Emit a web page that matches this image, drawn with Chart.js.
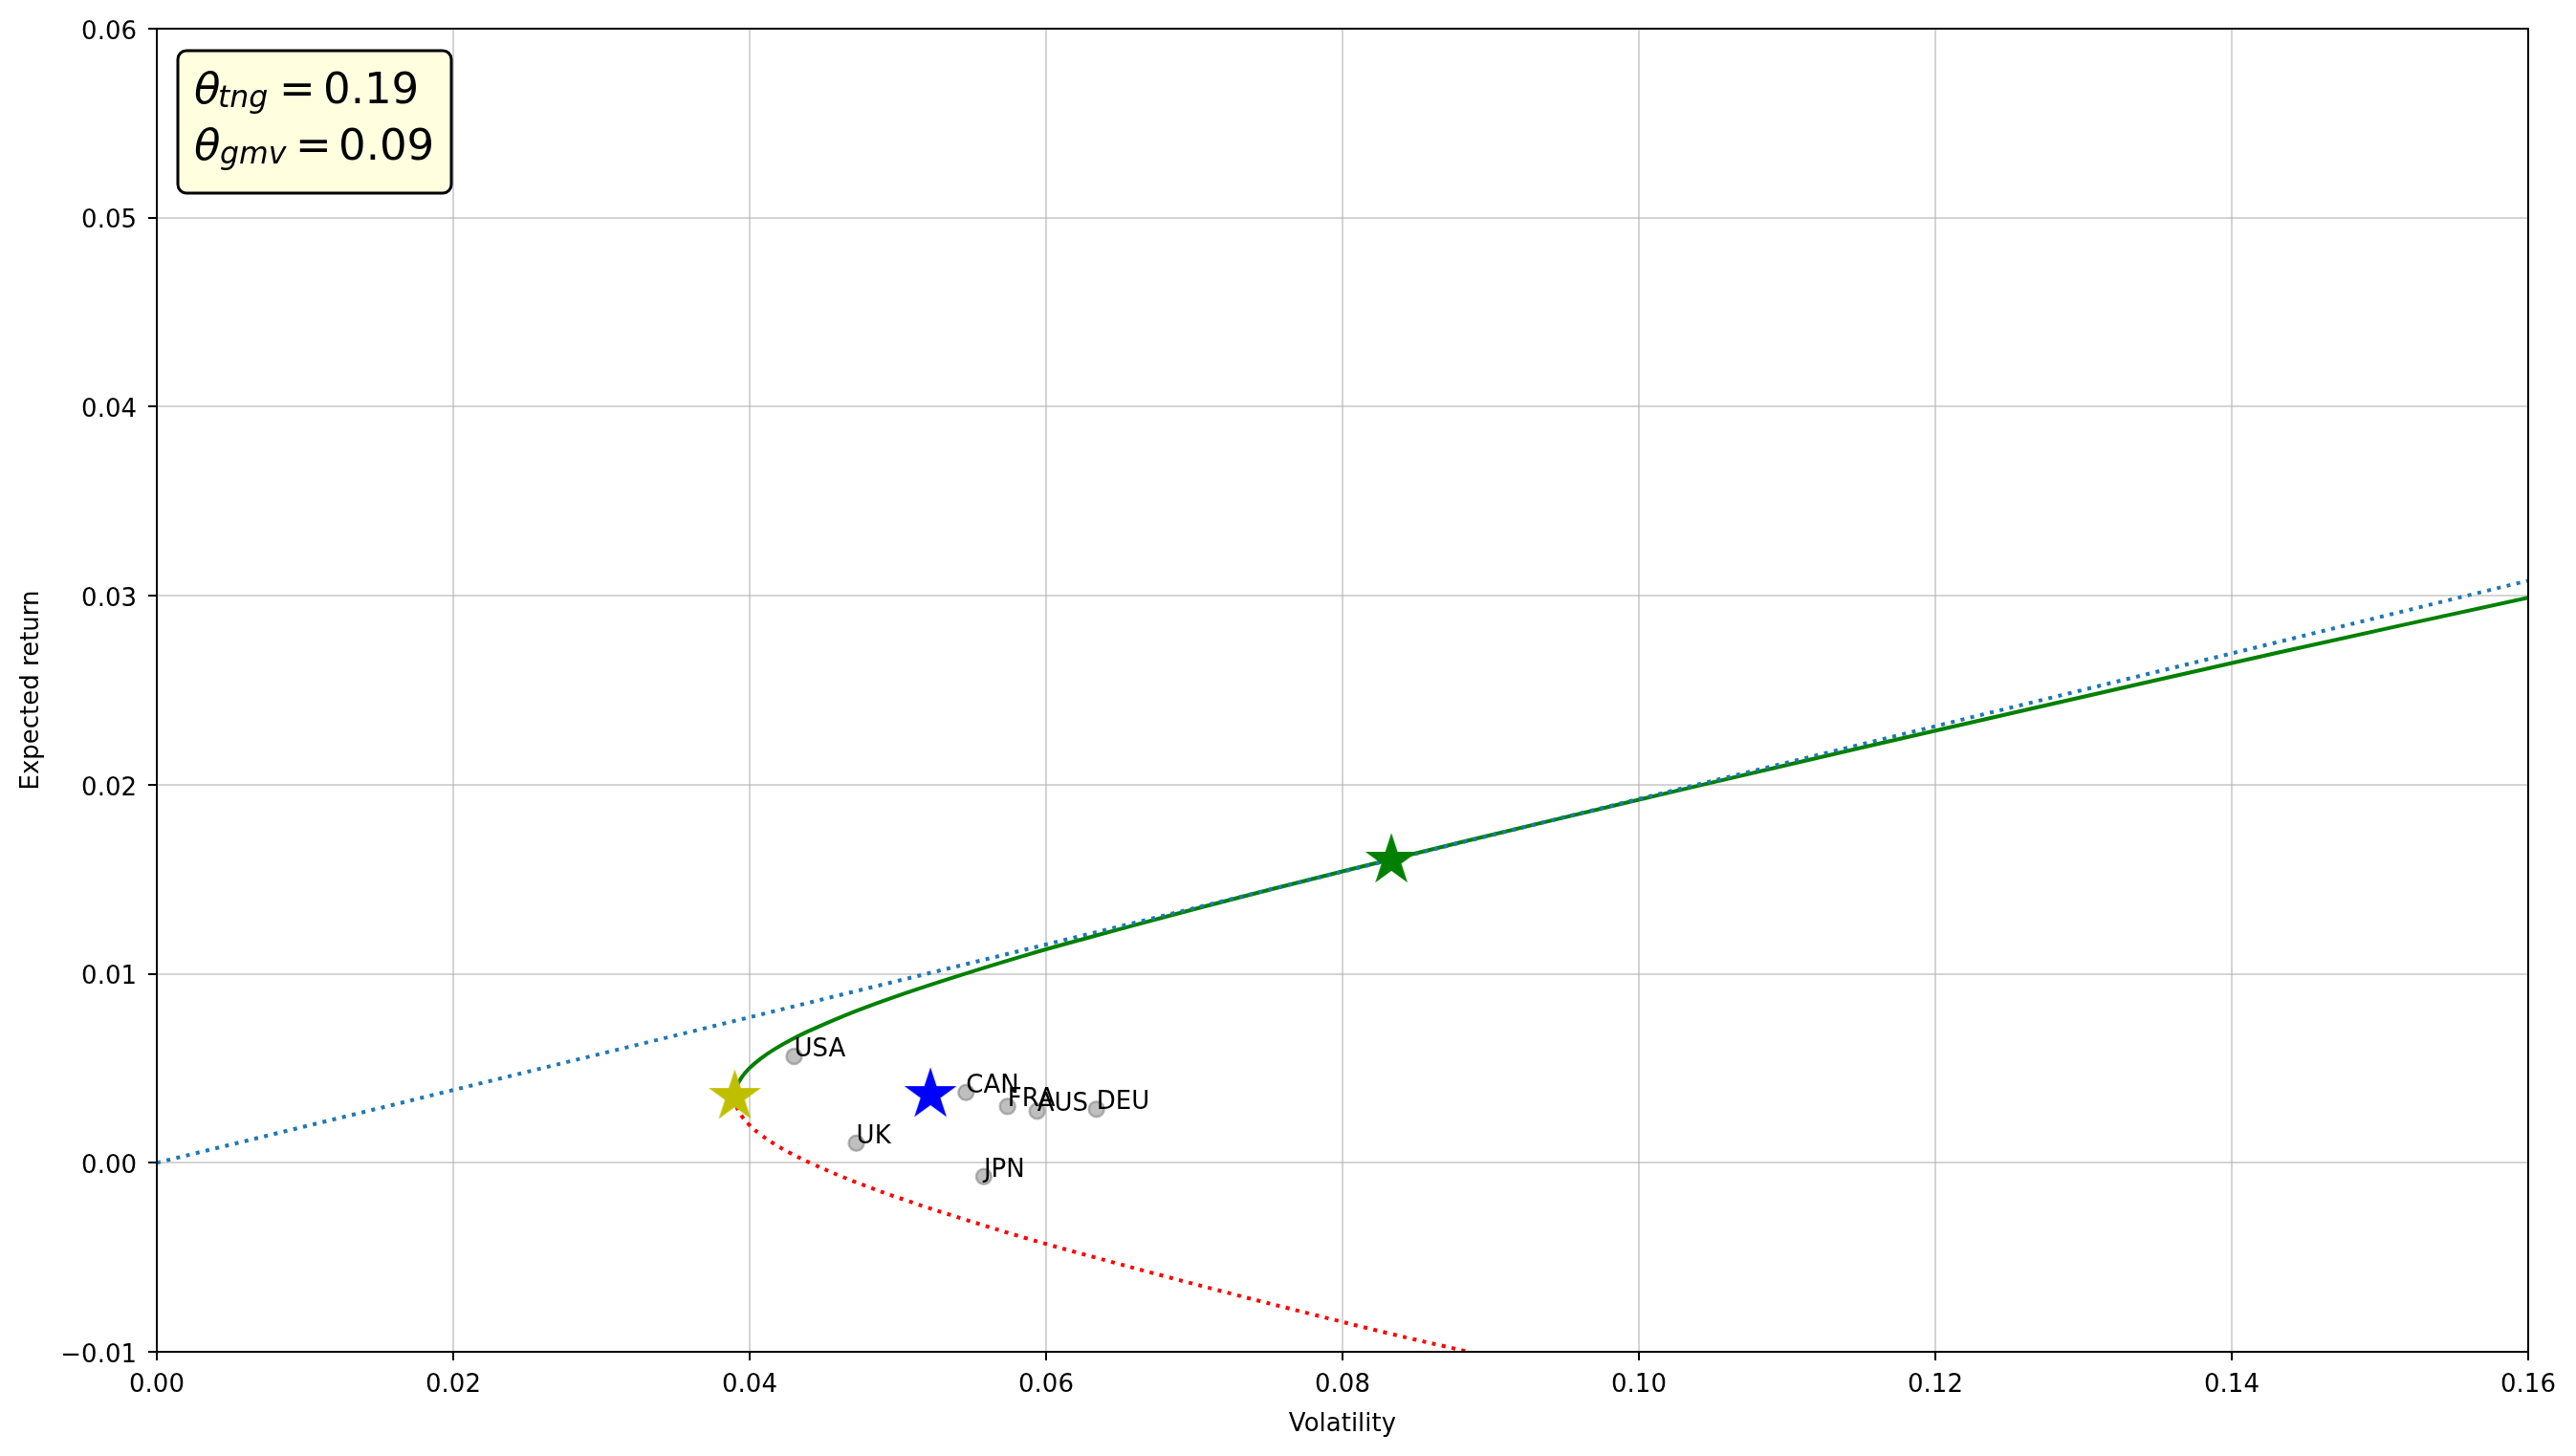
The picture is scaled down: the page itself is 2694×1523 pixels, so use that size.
<!DOCTYPE html>
<html>
<head>
<meta charset="utf-8">
<script src="https://cdn.jsdelivr.net/npm/chart.js@4.4.0/dist/chart.umd.min.js"></script>
<style>
  html, body { margin: 0; padding: 0; background: #fff; }
  #wrap { width: 2694px; height: 1523px; position: relative; }
</style>
</head>
<body>
<div id="wrap"><canvas id="chart"></canvas></div>
<script>
// ---- data ----
const countries = ["USA", "CAN", "FRA", "AUS", "DEU", "UK", "JPN"];
const countryVol = [0.0430, 0.0546, 0.0574, 0.0594, 0.0634, 0.0472, 0.0558];
const countryRet = [0.00563, 0.00372, 0.00298, 0.00273, 0.00284, 0.00104, -0.00073];

// efficient (upper) branch of the frontier
const effVol = [0.0390, 0.03911, 0.03944, 0.03998, 0.04072, 0.04166, 0.04278, 0.04407, 0.04708, 0.05060,
  0.05452, 0.0587, 0.06327, 0.06799, 0.07286, 0.07788, 0.0830, 0.09352, 0.10429, 0.11524, 0.12634, 0.14316, 0.1600];
const effRet = [0.0035, 0.0040, 0.0045, 0.0050, 0.0055, 0.0060, 0.0065, 0.0070, 0.0080, 0.0090,
  0.0100, 0.0110, 0.0120, 0.0130, 0.0140, 0.0150, 0.0160, 0.0180, 0.0200, 0.0220, 0.0240, 0.0270, 0.0299];

// inefficient (lower) branch
const ineffVol = [0.0390, 0.03911, 0.03944, 0.03998, 0.04072, 0.04166, 0.04278, 0.04407, 0.04708, 0.05060,
  0.05452, 0.0587, 0.06327, 0.06799, 0.07286, 0.07788, 0.0830, 0.0885];
const ineffRet = [0.0035, 0.0030, 0.0025, 0.0020, 0.0015, 0.0010, 0.0005, 0.0000, -0.0010, -0.0020,
  -0.0030, -0.0040, -0.0050, -0.0060, -0.0070, -0.0080, -0.0090, -0.0100];

// capital market line
const cmlVol = [0.0, 0.16];
const cmlRet = [0.0, 0.0308];

// special portfolios
const tngPoint = [0.0833, 0.0160];
const gmvPoint = [0.0390, 0.0035];
const ewPoint = [0.0522, 0.0036];

const thetaTng = "0.19";
const thetaGmv = "0.09";

const xTicks = [0, 0.02, 0.04, 0.06, 0.08, 0.10, 0.12, 0.14, 0.16];
const xTickLabels = ["0.00", "0.02", "0.04", "0.06", "0.08", "0.10", "0.12", "0.14", "0.16"];
const yTicks = [-0.01, 0, 0.01, 0.02, 0.03, 0.04, 0.05, 0.06];
const yTickLabels = ["\u22120.01", "0.00", "0.01", "0.02", "0.03", "0.04", "0.05", "0.06"];

const FONT = '"DejaVu Sans", "Liberation Sans", sans-serif';

function pts(xs, ys) {
  return xs.map((v, i) => ({ x: v, y: ys[i] }));
}

// filled five-point star, like the matplotlib '*' marker
function starImage(color) {
  const R = 25.5, r = R * 0.381966, size = 58;
  const c = document.createElement("canvas");
  c.width = size; c.height = size;
  const g = c.getContext("2d");
  g.translate(size / 2, size / 2);
  g.beginPath();
  for (let i = 0; i < 10; i++) {
    const rad = i % 2 === 0 ? R : r;
    const a = -Math.PI / 2 + i * Math.PI / 5;
    const px = rad * Math.cos(a), py = rad * Math.sin(a);
    if (i === 0) g.moveTo(px, py); else g.lineTo(px, py);
  }
  g.closePath();
  g.fillStyle = color;
  g.fill();
  g.lineWidth = 2;
  g.strokeStyle = color;
  g.lineJoin = "miter";
  g.stroke();
  return c;
}

const overlay = {
  id: "overlay",
  afterDatasetsDraw(chart) {
    const { ctx, chartArea: a, scales: { x, y } } = chart;
    ctx.save();
    // country names, anchored at the point like annotate()
    ctx.font = "26px " + FONT;
    ctx.fillStyle = "#000";
    ctx.textAlign = "left";
    ctx.textBaseline = "alphabetic";
    countries.forEach((c, i) => {
      ctx.fillText(c, x.getPixelForValue(countryVol[i]), y.getPixelForValue(countryRet[i]));
    });
    // all four spines
    ctx.strokeStyle = "#000";
    ctx.lineWidth = 2;
    ctx.strokeRect(a.left, a.top, a.right - a.left, a.bottom - a.top);
    ctx.restore();
  },
  afterDraw(chart) {
    const { ctx, chartArea: a } = chart;
    const bx = a.left + 22, by = a.top + 23, bw = 286, bh = 149;
    ctx.save();
    ctx.beginPath();
    ctx.roundRect(bx, by, bw, bh, 9);
    ctx.fillStyle = "#ffffe0";
    ctx.fill();
    ctx.lineWidth = 3;
    ctx.strokeStyle = "#000";
    ctx.stroke();

    ctx.fillStyle = "#000";
    ctx.textBaseline = "alphabetic";
    ctx.textAlign = "left";
    const lines = [
      { sub: "tng", val: thetaTng, base: a.top + 78, subX: bx + 42, eqX: bx + 106, valX: bx + 152 },
      { sub: "gmv", val: thetaGmv, base: a.top + 137, subX: bx + 44, eqX: bx + 123, valX: bx + 168 },
    ];
    lines.forEach(l => {
      ctx.font = "italic 45px " + FONT;
      ctx.fillText("\u03b8", bx + 17, l.base);
      ctx.font = "italic 31.5px " + FONT;
      ctx.fillText(l.sub, l.subX, l.base + 4);
      ctx.font = "45px " + FONT;
      ctx.fillText("=", l.eqX, l.base);
      ctx.fillText(l.val, l.valX, l.base);
    });
    ctx.restore();
  },
};

const gridColor = "rgba(176,176,176,0.55)";

new Chart(document.getElementById("chart"), {
  type: "scatter",
  data: {
    datasets: [
      {
        label: "tangency",
        data: [{ x: tngPoint[0], y: tngPoint[1] }],
        pointStyle: starImage("#008000"),
        order: 0,
      },
      {
        label: "gmv",
        data: [{ x: gmvPoint[0], y: gmvPoint[1] }],
        pointStyle: starImage("#bfbf00"),
        order: 0,
      },
      {
        label: "equal weight",
        data: [{ x: ewPoint[0], y: ewPoint[1] }],
        pointStyle: starImage("#0000ff"),
        order: 0,
      },
      {
        label: "CML",
        data: pts(cmlVol, cmlRet),
        showLine: true,
        borderColor: "#1f77b4",
        borderWidth: 4,
        borderDash: [4, 6.5],
        borderCapStyle: "butt",
        pointRadius: 0,
        order: 1,
      },
      {
        label: "efficient",
        data: pts(effVol, effRet),
        showLine: true,
        borderColor: "#008000",
        borderWidth: 4,
        tension: 0.4,
        pointRadius: 0,
        order: 2,
      },
      {
        label: "inefficient",
        data: pts(ineffVol, ineffRet),
        showLine: true,
        borderColor: "#ff0000",
        borderWidth: 4,
        borderDash: [4, 6.5],
        borderCapStyle: "butt",
        tension: 0.4,
        pointRadius: 0,
        order: 2,
      },
      {
        label: "countries",
        data: pts(countryVol, countryRet),
        backgroundColor: "rgba(128,128,128,0.5)",
        borderColor: "rgba(128,128,128,0.55)",
        borderWidth: 2.5,
        pointRadius: 8,
        order: 3,
      },
    ],
  },
  options: {
    responsive: true,
    maintainAspectRatio: false,
    devicePixelRatio: 1,
    animation: false,
    events: [],
    layout: { padding: { top: 30, right: 50, left: 0, bottom: 0 } },
    plugins: {
      legend: { display: false },
      tooltip: { enabled: false },
    },
    scales: {
      x: {
        type: "linear",
        min: 0,
        max: 0.16,
        afterBuildTicks: (s) => { s.ticks = xTicks.map(v => ({ value: v })); },
        afterFit: (s) => { s.height = 109; },
        ticks: {
          autoSkip: false,
          maxRotation: 0,
          padding: 11,
          color: "#000",
          font: { family: FONT, size: 26 },
          callback: (v, i) => xTickLabels[i],
        },
        grid: { color: gridColor, lineWidth: 2, tickColor: "#000", tickWidth: 2, tickLength: 9 },
        border: { display: true, color: "#000", width: 2 },
        title: {
          display: true,
          text: "Volatility",
          color: "#000",
          font: { family: FONT, size: 26 },
          padding: { top: 0, bottom: 17 },
        },
      },
      y: {
        type: "linear",
        min: -0.01,
        max: 0.06,
        afterBuildTicks: (s) => { s.ticks = yTicks.map(v => ({ value: v })); },
        afterFit: (s) => { s.width = 164; },
        ticks: {
          autoSkip: false,
          padding: 12,
          labelOffset: 4,
          color: "#000",
          font: { family: FONT, size: 26 },
          callback: (v, i) => yTickLabels[i],
        },
        grid: { color: gridColor, lineWidth: 2, tickColor: "#000", tickWidth: 2, tickLength: 9 },
        border: { display: true, color: "#000", width: 2 },
        title: {
          display: true,
          text: "Expected return",
          color: "#000",
          font: { family: FONT, size: 26 },
          padding: { top: 18, bottom: 0 },
        },
      },
    },
  },
  plugins: [overlay],
});
</script>
</body>
</html>
